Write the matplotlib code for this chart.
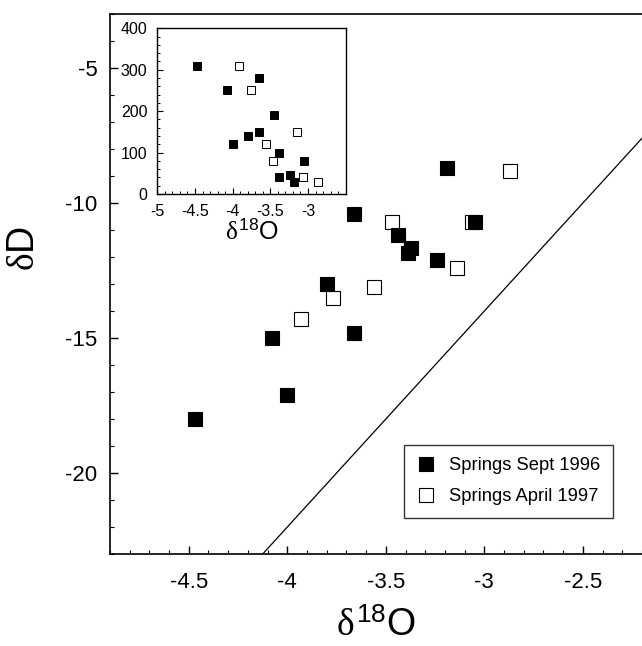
import matplotlib
matplotlib.use('Agg')
import matplotlib.pyplot as plt
from matplotlib.ticker import MultipleLocator, FuncFormatter
import numpy as np

plt.rcParams['font.family'] = ['Liberation Sans', 'DejaVu Sans']
plt.rcParams['axes.unicode_minus'] = False
plt.rcParams['mathtext.fontset'] = 'custom'
plt.rcParams['mathtext.rm'] = 'Liberation Sans'
plt.rcParams['mathtext.it'] = 'Liberation Serif'

# springs, September 1996 (filled)
sept_d18o = [-4.47, -4.08, -4.00, -3.80, -3.66, -3.66, -3.44, -3.385, -3.37, -3.24, -3.19, -3.045]
sept_dD = [-18.0, -15.0, -17.1, -13.0, -14.8, -10.4, -11.2, -11.85, -11.65, -12.1, -8.7, -10.7]
# springs, April 1997 (open)
april_d18o = [-3.93, -3.77, -3.56, -3.47, -3.14, -3.065, -2.87]
april_dD = [-14.3, -13.5, -13.1, -10.7, -12.4, -10.7, -8.8]

# inset values
ins_sept_x = [-4.47, -4.08, -3.65, -3.45, -3.80, -3.65, -4.00, -3.39, -3.05, -3.38, -3.24, -3.19]
ins_sept_y = [310, 250, 280, 190, 140, 150, 120, 100, 80, 40, 45, 30]
ins_april_x = [-3.92, -3.76, -3.56, -3.47, -3.14, -3.07, -2.87]
ins_april_y = [310, 250, 120, 80, 150, 40, 30]

labels = ['Springs Sept 1996', 'Springs April 1997']
gmwl_slope, gmwl_intercept = 8, 10

fmt = FuncFormatter(lambda v, p: '%g' % v)

fig = plt.figure(figsize=(6.42, 6.46), dpi=100)
ax = fig.add_axes([0.1713, 0.1424, 0.8287, 0.8359])

xl = (-4.9, -2.2)
ax.set_xlim(xl)
ax.set_ylim(-23, -3)
xx = np.array(xl)
ax.plot(xx, gmwl_slope * xx + gmwl_intercept, color='black', lw=0.9)

ax.plot(april_d18o, april_dD, 's', ms=10.5, mfc='white', mec='black', mew=0.8,
        ls='none', label=labels[1])
ax.plot(sept_d18o, sept_dD, 's', ms=10.5, mfc='black', mec='black', mew=0.8,
        ls='none', label=labels[0])

ax.xaxis.set_major_locator(MultipleLocator(0.5))
ax.xaxis.set_minor_locator(MultipleLocator(0.1))
ax.yaxis.set_major_locator(MultipleLocator(5))
ax.yaxis.set_minor_locator(MultipleLocator(1))
ax.xaxis.set_major_formatter(fmt)
ax.yaxis.set_major_formatter(fmt)
ax.tick_params(which='both', direction='in', top=False, right=False)
ax.tick_params(which='major', length=6, width=1)
ax.tick_params(which='minor', length=3, width=0.8)
ax.tick_params(axis='x', which='major', labelsize=16, pad=13)
ax.tick_params(axis='y', which='major', labelsize=16, pad=9)
ax.spines['right'].set_visible(False)
for s in ['left', 'bottom', 'top']:
    ax.spines[s].set_linewidth(1.2)

ax.set_xlabel(r'$\delta^{18}\mathrm{O}$', fontsize=27)
ax.xaxis.set_label_coords(0.5, -0.1)
ax.set_ylabel(r'$\delta\mathrm{D}$', fontsize=27)
ax.yaxis.set_label_coords(-0.128, 0.565)

h, l = ax.get_legend_handles_labels()
leg = ax.legend([h[1], h[0]], [l[1], l[0]], loc='lower left', bbox_to_anchor=(0.553, 0.0667),
                borderaxespad=0, fontsize=13.2, frameon=True, fancybox=False, edgecolor='black',
                handlelength=1.0, handletextpad=0.75, labelspacing=0.75, borderpad=0.7,
                markerscale=0.9)
leg.get_frame().set_linewidth(1.0)

# inset
ins = fig.add_axes([0.245, 0.6997, 0.2935, 0.2565])
ins.plot(ins_april_x, ins_april_y, 's', ms=6.3, mfc='white', mec='black', mew=0.7, ls='none')
ins.plot(ins_sept_x, ins_sept_y, 's', ms=6.3, mfc='black', mec='black', mew=0.7, ls='none')
ins.set_xlim(-5, -2.5)
ins.set_ylim(0, 400)
ins.set_xticks([-5, -4.5, -4, -3.5, -3])
ins.xaxis.set_minor_locator(MultipleLocator(0.1))
ins.yaxis.set_major_locator(MultipleLocator(100))
ins.yaxis.set_minor_locator(MultipleLocator(20))
ins.xaxis.set_major_formatter(fmt)
ins.yaxis.set_major_formatter(fmt)
ins.tick_params(which='both', direction='in', top=False, right=False, labelsize=11.5)
ins.tick_params(which='major', length=4, width=0.8, pad=7)
ins.tick_params(which='minor', length=2.5, width=0.7)
for s in ins.spines.values():
    s.set_linewidth(1.0)
ins.set_xlabel(r'$\delta^{18}\mathrm{O}$', fontsize=18)
ins.xaxis.set_label_coords(0.5, -0.15)

plt.savefig('out.png', dpi=100)
